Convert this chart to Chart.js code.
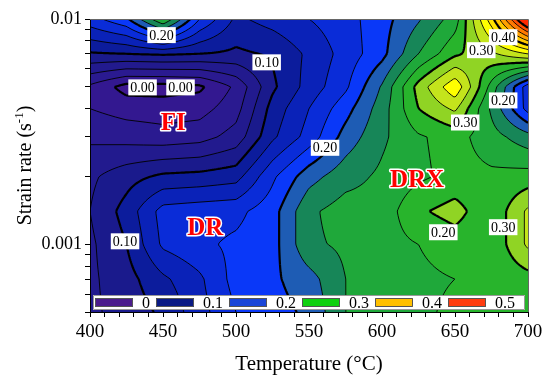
<!DOCTYPE html>
<html lang="en">

<head>
    <meta charset="UTF-8">
    <title>Processing map</title>
    <script src="https://cdn.jsdelivr.net/npm/chart.js"></script>
    <style>
        html, body { margin: 0; padding: 0; background: #fff; }
    </style>
</head>

<body>
    <canvas id="grafico" width="550" height="380"></canvas>

    <script>
        // Rejilla de datos: temperatura (columnas) x velocidad de deformación (filas)
        const temperaturas = [400, 425, 450, 475, 500, 525, 550, 575, 600, 625, 650, 675, 700];
        const velocidades = [0.0005, 0.0007, 0.001, 0.0014, 0.002, 0.003, 0.004, 0.005, 0.007, 0.01];
        const eficiencia = [
            [0.070, 0.085, 0.105, 0.140, 0.175, 0.190, 0.205, 0.250, 0.260, 0.270, 0.280, 0.280, 0.280],
            [0.070, 0.090, 0.120, 0.145, 0.185, 0.195, 0.215, 0.250, 0.265, 0.270, 0.275, 0.280, 0.290],
            [0.070, 0.100, 0.155, 0.170, 0.180, 0.190, 0.245, 0.255, 0.265, 0.275, 0.287, 0.280, 0.330],
            [0.075, 0.110, 0.160, 0.165, 0.168, 0.190, 0.245, 0.262, 0.260, 0.296, 0.310, 0.280, 0.330],
            [0.070, 0.090, 0.105, 0.108, 0.115, 0.170, 0.215, 0.240, 0.255, 0.270, 0.283, 0.280, 0.285],
            [0.045, 0.040, 0.035, 0.040, 0.060, 0.120, 0.160, 0.210, 0.245, 0.272, 0.285, 0.260, 0.235],
            [0.025, 0.015, 0.012, 0.015, 0.040, 0.110, 0.150, 0.190, 0.238, 0.300, 0.330, 0.245, 0.165],
            [0.020, -0.010, -0.010, -0.005, 0.030, 0.095, 0.135, 0.170, 0.228, 0.310, 0.370, 0.265, 0.160],
            [0.097, 0.100, 0.103, 0.100, 0.095, 0.103, 0.130, 0.160, 0.192, 0.250, 0.295, 0.320, 0.350],
            [0.165, 0.195, 0.275, 0.175, 0.120, 0.135, 0.150, 0.165, 0.190, 0.222, 0.262, 0.390, 0.550]
        ];

        // Niveles de contorno y colores de cada banda (uno más que niveles)
        const niveles = [0.000, 0.025, 0.050, 0.075, 0.100, 0.125, 0.150, 0.175, 0.200, 0.225, 0.250,
            0.275, 0.300, 0.325, 0.350, 0.375, 0.400, 0.425, 0.450, 0.475, 0.500];
        const coloresBanda = ['#3e1890', '#331890', '#2a1a90', '#221a8e', '#1a1a8c', '#0c1c9c', '#0a22b8',
            '#0a2cd8', '#0a38f8', '#1e5cb4', '#178658', '#1fa83a', '#28b42c', '#90d424', '#c4e41c',
            '#ffff00', '#ffe400', '#ffc800', '#ffa000', '#ff7800', '#ff5000', '#ff2800'];

        // Etiquetas sobre las líneas de contorno
        const etiquetaTexto = ['0.20', '0.10', '0.00', '0.00', '0.20', '0.30', '0.40', '0.30', '0.20', '0.10', '0.20', '0.30'];
        const etiquetaT = [449, 521, 436, 462, 561, 668, 683, 657, 683, 424, 642, 683];
        const etiquetaV = [0.00848, 0.00642, 0.00497, 0.00497, 0.00268, 0.00727, 0.0083, 0.00347, 0.00435, 0.00103, 0.00113, 0.00119];

        // Regiones
        const regionTexto = ['FI', 'DR', 'DRX'];
        const regionT = [457, 479, 624];
        const regionV = [0.00343, 0.00117, 0.00191];

        // Leyenda
        const leyendaTexto = ['0', '0.1', '0.2', '0.3', '0.4', '0.5'];
        const leyendaColor = ['#4b1c8c', '#0a1a84', '#1a46d8', '#10d010', '#ffc000', '#ff3c10'];

        // Ejes
        const etiquetasX = ['400', '450', '500', '550', '600', '650', '700'];
        const marcasY = [0.0005, 0.0006, 0.0007, 0.0008, 0.0009, 0.001, 0.002, 0.003, 0.004, 0.005, 0.006, 0.007, 0.008, 0.009, 0.01];
        const etiquetasY = ['', '', '', '', '', '0.001', '', '', '', '', '', '', '', '', '0.01'];

        const marcasX = [];
        for (let t = 400; t <= 700; t += 10) marcasX.push(t);

        const logV = velocidades.map(v => Math.log10(v));

        function buscar(arr, v) {
            let i = 0;
            while (i < arr.length - 2 && v > arr[i + 1]) i++;
            let f = (v - arr[i]) / (arr[i + 1] - arr[i]);
            f = Math.max(0, Math.min(1, f));
            return [i, f];
        }

        // Interpolación bilineal en (T, log10 velocidad)
        function valor(t, r) {
            const [i, fx] = buscar(temperaturas, t);
            const [j, fy] = buscar(logV, Math.log10(r));
            const z = eficiencia;
            return (1 - fx) * (1 - fy) * z[j][i] + fx * (1 - fy) * z[j][i + 1] +
                (1 - fx) * fy * z[j + 1][i] + fx * fy * z[j + 1][i + 1];
        }

        function banda(v) {
            let k = 0;
            while (k < niveles.length && v >= niveles[k]) k++;
            return k;
        }

        const rgbBanda = coloresBanda.map(c => [parseInt(c.slice(1, 3), 16), parseInt(c.slice(3, 5), 16), parseInt(c.slice(5, 7), 16)]);

        const mapaPlugin = {
            id: 'mapa',
            beforeDraw(chart) {
                const { ctx, chartArea: a, scales: { x, y } } = chart;
                const left = Math.round(a.left), top = Math.round(a.top);
                const w = Math.round(a.right) - left, h = Math.round(a.bottom) - top;

                // relleno por bandas
                const img = ctx.createImageData(w, h);
                const ts = [], rs = [];
                for (let i = 0; i < w; i++) ts.push(x.getValueForPixel(left + i + 0.5));
                for (let j = 0; j < h; j++) rs.push(y.getValueForPixel(top + j + 0.5));
                for (let j = 0; j < h; j++) {
                    for (let i = 0; i < w; i++) {
                        const c = rgbBanda[banda(valor(ts[i], rs[j]))];
                        const k = (j * w + i) * 4;
                        img.data[k] = c[0]; img.data[k + 1] = c[1]; img.data[k + 2] = c[2]; img.data[k + 3] = 255;
                    }
                }
                ctx.putImageData(img, left, top);

                // líneas de contorno (marching squares)
                const paso = 2;
                const px = [], py = [];
                for (let i = 0; left + i * paso < left + w; i++) px.push(left + i * paso);
                px.push(left + w);
                for (let j = 0; top + j * paso < top + h; j++) py.push(top + j * paso);
                py.push(top + h);
                const campo = py.map(yy => {
                    const r = y.getValueForPixel(yy);
                    return px.map(xx => valor(x.getValueForPixel(xx), r));
                });

                ctx.save();
                ctx.beginPath();
                ctx.rect(a.left, a.top, a.right - a.left, a.bottom - a.top);
                ctx.clip();
                ctx.strokeStyle = '#000';
                ctx.lineJoin = 'round';
                niveles.forEach(L => {
                    const negrita = Math.round(L * 1000) % 100 === 0;
                    ctx.beginPath();
                    for (let j = 0; j < py.length - 1; j++) {
                        for (let i = 0; i < px.length - 1; i++) {
                            const v0 = campo[j][i], v1 = campo[j][i + 1], v2 = campo[j + 1][i + 1], v3 = campo[j + 1][i];
                            const pts = [];
                            const borde = (va, vb, xa, ya, xb, yb) => {
                                if ((va >= L) !== (vb >= L)) {
                                    const f = (L - va) / (vb - va);
                                    pts.push([xa + f * (xb - xa), ya + f * (yb - ya)]);
                                }
                            };
                            borde(v0, v1, px[i], py[j], px[i + 1], py[j]);
                            borde(v1, v2, px[i + 1], py[j], px[i + 1], py[j + 1]);
                            borde(v2, v3, px[i + 1], py[j + 1], px[i], py[j + 1]);
                            borde(v3, v0, px[i], py[j + 1], px[i], py[j]);
                            for (let k = 0; k + 1 < pts.length; k += 2) {
                                ctx.moveTo(pts[k][0], pts[k][1]);
                                ctx.lineTo(pts[k + 1][0], pts[k + 1][1]);
                            }
                        }
                    }
                    ctx.lineWidth = negrita ? 2.2 : 0.9;
                    ctx.stroke();
                });
                ctx.restore();
            },
            afterDraw(chart) {
                const { ctx, chartArea: a, scales: { x, y } } = chart;
                ctx.save();

                // marco superior y derecho
                ctx.strokeStyle = '#666';
                ctx.lineWidth = 1;
                ctx.beginPath();
                ctx.moveTo(a.left, a.top + 0.5);
                ctx.lineTo(a.right + 0.5, a.top + 0.5);
                ctx.lineTo(a.right + 0.5, a.bottom);
                ctx.stroke();

                // etiquetas de contorno
                ctx.font = '14px "Liberation Serif"';
                ctx.textAlign = 'center';
                ctx.textBaseline = 'middle';
                etiquetaTexto.forEach((txt, k) => {
                    const cx = x.getPixelForValue(etiquetaT[k]);
                    const cy = y.getPixelForValue(etiquetaV[k]);
                    const tw = ctx.measureText(txt).width;
                    ctx.fillStyle = '#fff';
                    ctx.fillRect(cx - tw / 2 - 2, cy - 8, tw + 4, 16);
                    ctx.fillStyle = '#000';
                    ctx.fillText(txt, cx, cy + 1);
                });

                // regiones
                ctx.font = 'bold 25px "Liberation Serif"';
                ctx.lineJoin = 'round';
                regionTexto.forEach((txt, k) => {
                    const cx = x.getPixelForValue(regionT[k]);
                    const cy = y.getPixelForValue(regionV[k]);
                    ctx.strokeStyle = '#fff';
                    ctx.lineWidth = 3;
                    ctx.strokeText(txt, cx, cy);
                    ctx.fillStyle = '#f00';
                    ctx.fillText(txt, cx, cy);
                });

                // leyenda interna
                const lx = a.left + 3, ly = a.bottom - 17;
                ctx.fillStyle = '#fff';
                ctx.fillRect(lx, ly, a.right - a.left - 6, 15);
                ctx.strokeStyle = '#999';
                ctx.lineWidth = 1;
                ctx.strokeRect(lx + 0.5, ly + 0.5, a.right - a.left - 7, 14);
                ctx.font = '16px "Liberation Serif"';
                ctx.textAlign = 'left';
                let cx = lx + 2;
                leyendaTexto.forEach((txt, k) => {
                    ctx.fillStyle = leyendaColor[k];
                    ctx.fillRect(cx, ly + 3, 38, 9);
                    ctx.strokeStyle = '#555';
                    ctx.strokeRect(cx + 0.5, ly + 3.5, 37, 8);
                    ctx.fillStyle = '#000';
                    ctx.fillText(txt, cx + 47, ly + 8.5);
                    cx += 47 + ctx.measureText(txt).width + 6;
                });

                // título del eje Y con superíndice
                ctx.translate(24, (a.top + a.bottom) / 2);
                ctx.rotate(-Math.PI / 2);
                const t1 = 'Strain rate (s', t2 = '-1', t3 = ')';
                ctx.font = '20px "Liberation Serif"';
                const w1 = ctx.measureText(t1).width, w3 = ctx.measureText(t3).width;
                ctx.font = '13px "Liberation Serif"';
                const w2 = ctx.measureText(t2).width;
                let sx = -(w1 + w2 + w3) / 2;
                ctx.fillStyle = '#000';
                ctx.textBaseline = 'alphabetic';
                ctx.font = '20px "Liberation Serif"';
                ctx.fillText(t1, sx, 7);
                ctx.font = '13px "Liberation Serif"';
                ctx.fillText(t2, sx + w1, -1);
                ctx.font = '20px "Liberation Serif"';
                ctx.fillText(t3, sx + w1 + w2, 7);
                ctx.restore();
            }
        };

        const puntos = [];
        velocidades.forEach(r => temperaturas.forEach(t => puntos.push({ x: t, y: r })));

        new Chart(document.getElementById('grafico').getContext('2d'), {
            type: 'scatter',
            data: { datasets: [{ data: puntos, pointRadius: 0, showLine: false }] },
            options: {
                responsive: false,
                animation: false,
                events: [],
                layout: { padding: { top: 19, right: 22, left: 0, bottom: 0 } },
                plugins: { legend: { display: false }, tooltip: { enabled: false } },
                scales: {
                    x: {
                        type: 'linear', min: 400, max: 700,
                        afterFit(s) { s.height = 68; },
                        afterBuildTicks(s) { s.ticks = marcasX.map(v => ({ value: v })); },
                        ticks: {
                            autoSkip: false, maxRotation: 0, color: '#000', padding: 4,
                            font: { family: 'Liberation Serif', size: 19 },
                            callback: v => (v % 50 === 0 ? etiquetasX[(v - 400) / 50] : '')
                        },
                        grid: { drawOnChartArea: false, drawTicks: true, tickLength: 5, color: '#000' },
                        border: { display: true, color: '#000', width: 1 },
                        title: {
                            display: true, text: 'Temperature (°C)', color: '#000',
                            font: { family: 'Liberation Serif', size: 21 }, padding: { top: 0, bottom: 3 }
                        }
                    },
                    y: {
                        type: 'logarithmic', min: 0.0005, max: 0.01,
                        afterFit(s) { s.width = 90; },
                        afterBuildTicks(s) { s.ticks = marcasY.map(v => ({ value: v })); },
                        ticks: {
                            autoSkip: false, color: '#000', padding: 3,
                            font: { family: 'Liberation Serif', size: 18 },
                            callback: (v, i) => etiquetasY[i]
                        },
                        grid: { drawOnChartArea: false, drawTicks: true, tickLength: 5, color: '#000' },
                        border: { display: true, color: '#000', width: 1 }
                    }
                }
            },
            plugins: [mapaPlugin]
        });
    </script>

</body>

</html>
